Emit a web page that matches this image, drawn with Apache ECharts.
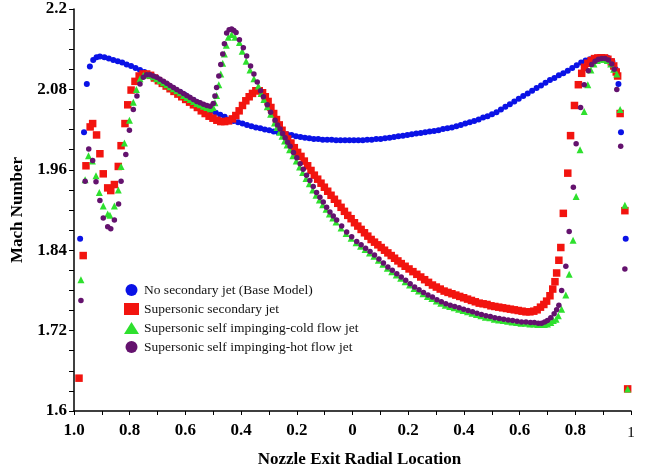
<!DOCTYPE html>
<html>
<head>
<meta charset="utf-8">
<script src="https://cdn.jsdelivr.net/npm/echarts@6/dist/echarts.min.js"></script>
<style>
html,body{margin:0;padding:0;background:#fff;}
#chart{width:645px;height:473px;}
</style>
</head>
<body>
<div id="chart"></div>
<script>
const seriesNames = [
  'No secondary jet (Base Model)',
  'Supersonic secondary jet',
  'Supersonic self impinging-cold flow jet',
  'Supersonic self impinging-hot flow jet'
];
const xTickLabels = ['1.0','0.8','0.6','0.4','0.2','0','0.2','0.4','0.6','0.8','1'];
const yTickLabels = ['1.6','1.72','1.84','1.96','2.08','2.2'];

const baseModel = [
[-0.978,1.857],[-0.964,2.016],[-0.954,2.088],[-0.943,2.114],[-0.931,2.124],[-0.919,2.128],[-0.907,2.129],[-0.891,2.128],
[-0.875,2.126],[-0.859,2.124],[-0.843,2.122],[-0.827,2.120],[-0.811,2.117],[-0.795,2.115],[-0.779,2.112],[-0.763,2.109],
[-0.747,2.106],[-0.731,2.102],[-0.715,2.099],[-0.699,2.095],[-0.683,2.091],[-0.667,2.087],[-0.651,2.083],[-0.635,2.079],
[-0.619,2.076],[-0.603,2.072],[-0.587,2.068],[-0.571,2.064],[-0.555,2.060],[-0.539,2.056],[-0.523,2.052],[-0.507,2.048],
[-0.491,2.045],[-0.475,2.042],[-0.459,2.039],[-0.443,2.035],[-0.427,2.033],[-0.411,2.031],[-0.395,2.029],[-0.379,2.027],
[-0.363,2.025],[-0.347,2.023],[-0.331,2.022],[-0.315,2.020],[-0.299,2.019],[-0.283,2.017],[-0.267,2.016],[-0.251,2.014],
[-0.235,2.013],[-0.219,2.012],[-0.203,2.010],[-0.187,2.009],[-0.171,2.008],[-0.155,2.007],[-0.139,2.006],[-0.123,2.006],
[-0.107,2.005],[-0.091,2.005],[-0.075,2.005],[-0.059,2.004],[-0.043,2.004],[-0.027,2.004],[-0.011,2.004],[0.005,2.004],
[0.021,2.004],[0.037,2.004],[0.053,2.005],[0.069,2.005],[0.085,2.006],[0.101,2.006],[0.117,2.007],[0.133,2.008],
[0.149,2.009],[0.165,2.010],[0.181,2.011],[0.197,2.012],[0.213,2.013],[0.229,2.014],[0.245,2.015],[0.261,2.016],
[0.277,2.017],[0.293,2.018],[0.309,2.019],[0.325,2.021],[0.341,2.022],[0.357,2.023],[0.373,2.025],[0.389,2.027],
[0.405,2.029],[0.421,2.031],[0.437,2.033],[0.453,2.035],[0.469,2.038],[0.485,2.040],[0.501,2.043],[0.517,2.046],
[0.533,2.050],[0.549,2.054],[0.565,2.058],[0.581,2.062],[0.597,2.066],[0.613,2.070],[0.629,2.074],[0.645,2.078],
[0.661,2.082],[0.677,2.086],[0.693,2.090],[0.709,2.094],[0.725,2.097],[0.741,2.101],[0.757,2.104],[0.773,2.108],
[0.789,2.112],[0.805,2.116],[0.821,2.120],[0.837,2.123],[0.853,2.125],[0.869,2.127],[0.885,2.128],[0.901,2.128],
[0.917,2.127],[0.933,2.122],[0.945,2.110],[0.955,2.088],[0.964,2.016],[0.981,1.857]
];

const secondaryJet = [
[-0.982,1.649],[-0.967,1.832],[-0.957,1.966],[-0.942,2.024],[-0.933,2.029],[-0.919,2.012],[-0.907,1.984],[-0.895,1.954],
[-0.879,1.933],[-0.868,1.929],[-0.855,1.938],[-0.841,1.965],[-0.831,1.996],[-0.817,2.029],[-0.807,2.057],[-0.795,2.079],
[-0.781,2.092],[-0.766,2.100],[-0.752,2.103],[-0.739,2.103],[-0.725,2.101],[-0.711,2.097],[-0.697,2.093],[-0.683,2.089],
[-0.669,2.085],[-0.655,2.081],[-0.641,2.077],[-0.627,2.073],[-0.613,2.069],[-0.599,2.065],[-0.585,2.061],[-0.571,2.057],
[-0.557,2.053],[-0.543,2.048],[-0.529,2.044],[-0.515,2.040],[-0.501,2.037],[-0.487,2.034],[-0.473,2.032],[-0.459,2.032],
[-0.445,2.033],[-0.431,2.036],[-0.419,2.041],[-0.407,2.048],[-0.395,2.056],[-0.383,2.063],[-0.371,2.069],[-0.359,2.074],
[-0.347,2.078],[-0.335,2.078],[-0.323,2.075],[-0.313,2.069],[-0.303,2.062],[-0.293,2.053],[-0.283,2.044],[-0.273,2.035],
[-0.263,2.027],[-0.253,2.019],[-0.243,2.012],[-0.233,2.006],[-0.221,2.000],[-0.209,1.993],[-0.197,1.986],[-0.185,1.980],
[-0.173,1.973],[-0.161,1.966],[-0.149,1.959],[-0.137,1.952],[-0.125,1.946],[-0.113,1.940],[-0.101,1.934],[-0.089,1.928],
[-0.077,1.922],[-0.065,1.916],[-0.053,1.910],[-0.041,1.904],[-0.029,1.898],[-0.017,1.892],[-0.005,1.887],[0.007,1.881],
[0.019,1.876],[0.031,1.871],[0.043,1.866],[0.055,1.861],[0.067,1.856],[0.079,1.852],[0.091,1.848],[0.103,1.844],
[0.115,1.840],[0.127,1.836],[0.139,1.832],[0.151,1.828],[0.163,1.824],[0.175,1.820],[0.189,1.816],[0.203,1.812],
[0.217,1.808],[0.231,1.804],[0.245,1.800],[0.259,1.796],[0.273,1.792],[0.287,1.788],[0.301,1.785],[0.315,1.782],
[0.329,1.779],[0.343,1.777],[0.357,1.775],[0.371,1.773],[0.385,1.771],[0.399,1.769],[0.413,1.767],[0.427,1.765],
[0.441,1.763],[0.455,1.761],[0.469,1.760],[0.483,1.759],[0.497,1.757],[0.511,1.756],[0.525,1.755],[0.539,1.754],
[0.553,1.753],[0.567,1.752],[0.581,1.751],[0.595,1.750],[0.609,1.749],[0.623,1.748],[0.637,1.748],[0.651,1.749],
[0.663,1.751],[0.675,1.755],[0.687,1.759],[0.697,1.764],[0.709,1.772],[0.719,1.782],[0.727,1.793],[0.733,1.806],
[0.741,1.825],[0.748,1.844],[0.757,1.895],[0.773,1.955],[0.783,2.011],[0.797,2.056],[0.811,2.087],[0.823,2.104],
[0.833,2.113],[0.845,2.119],[0.857,2.123],[0.869,2.126],[0.881,2.127],[0.893,2.127],[0.905,2.127],[0.917,2.125],
[0.929,2.121],[0.938,2.115],[0.947,2.106],[0.952,2.100],[0.961,2.044],[0.978,1.899],[0.988,1.633]
];

const coldFlowJet = [
[-0.975,1.796],[-0.960,1.945],[-0.948,1.981],[-0.934,1.973],[-0.921,1.951],[-0.909,1.926],[-0.895,1.906],[-0.879,1.894],
[-0.871,1.892],[-0.855,1.906],[-0.841,1.930],[-0.831,1.965],[-0.819,2.000],[-0.801,2.034],[-0.787,2.061],[-0.776,2.080],
[-0.763,2.096],[-0.751,2.101],[-0.739,2.102],[-0.727,2.101],[-0.715,2.099],[-0.703,2.096],[-0.691,2.093],[-0.679,2.090],
[-0.667,2.087],[-0.655,2.084],[-0.643,2.081],[-0.631,2.078],[-0.619,2.075],[-0.607,2.071],[-0.595,2.068],[-0.583,2.065],
[-0.571,2.062],[-0.559,2.059],[-0.547,2.057],[-0.535,2.055],[-0.523,2.053],[-0.511,2.051],[-0.500,2.053],[-0.494,2.060],
[-0.488,2.071],[-0.480,2.087],[-0.473,2.103],[-0.466,2.119],[-0.460,2.133],[-0.453,2.146],[-0.446,2.158],[-0.434,2.162],
[-0.422,2.158],[-0.406,2.150],[-0.396,2.137],[-0.382,2.122],[-0.368,2.109],[-0.354,2.096],[-0.338,2.085],[-0.328,2.074],
[-0.318,2.065],[-0.306,2.054],[-0.294,2.043],[-0.280,2.030],[-0.271,2.023],[-0.262,2.016],[-0.253,2.010],[-0.244,2.003],
[-0.235,1.997],[-0.226,1.990],[-0.214,1.981],[-0.202,1.973],[-0.190,1.964],[-0.179,1.956],[-0.167,1.947],[-0.155,1.939],
[-0.143,1.930],[-0.131,1.922],[-0.119,1.915],[-0.107,1.908],[-0.095,1.901],[-0.083,1.894],[-0.071,1.888],[-0.059,1.882],
[-0.041,1.873],[-0.023,1.865],[-0.005,1.858],[0.013,1.851],[0.029,1.846],[0.045,1.841],[0.061,1.836],[0.077,1.831],
[0.093,1.825],[0.109,1.819],[0.125,1.813],[0.141,1.808],[0.157,1.803],[0.173,1.798],[0.189,1.793],[0.205,1.788],
[0.221,1.783],[0.237,1.779],[0.253,1.775],[0.269,1.771],[0.285,1.768],[0.301,1.764],[0.317,1.761],[0.333,1.758],
[0.349,1.756],[0.365,1.754],[0.381,1.752],[0.397,1.750],[0.413,1.748],[0.429,1.746],[0.445,1.744],[0.461,1.742],
[0.477,1.740],[0.493,1.739],[0.509,1.737],[0.525,1.736],[0.541,1.735],[0.557,1.734],[0.573,1.733],[0.589,1.732],
[0.605,1.731],[0.621,1.731],[0.637,1.730],[0.651,1.730],[0.665,1.729],[0.677,1.729],[0.689,1.729],[0.700,1.730],
[0.712,1.732],[0.721,1.735],[0.731,1.737],[0.739,1.742],[0.751,1.752],[0.766,1.773],[0.778,1.804],[0.792,1.855],
[0.803,1.920],[0.817,1.990],[0.832,2.047],[0.845,2.087],[0.856,2.109],[0.867,2.118],[0.879,2.123],[0.891,2.125],
[0.903,2.125],[0.915,2.123],[0.927,2.118],[0.938,2.110],[0.949,2.103],[0.961,2.050],[0.978,1.907],[0.988,1.633]
];

const hotFlowJet = [
[-0.975,1.765],[-0.960,1.943],[-0.947,1.991],[-0.933,1.974],[-0.921,1.942],[-0.907,1.914],[-0.895,1.888],[-0.879,1.875],
[-0.868,1.872],[-0.855,1.885],[-0.840,1.909],[-0.831,1.943],[-0.814,1.983],[-0.801,2.019],[-0.787,2.050],[-0.774,2.070],
[-0.763,2.088],[-0.751,2.098],[-0.739,2.102],[-0.727,2.102],[-0.715,2.100],[-0.703,2.098],[-0.691,2.095],[-0.679,2.092],
[-0.667,2.089],[-0.655,2.086],[-0.643,2.083],[-0.631,2.080],[-0.619,2.077],[-0.607,2.074],[-0.595,2.071],[-0.583,2.068],
[-0.571,2.065],[-0.559,2.062],[-0.547,2.060],[-0.535,2.058],[-0.523,2.056],[-0.511,2.055],[-0.500,2.059],[-0.494,2.070],
[-0.488,2.083],[-0.480,2.100],[-0.473,2.117],[-0.466,2.133],[-0.460,2.148],[-0.452,2.164],[-0.443,2.169],[-0.434,2.170],
[-0.426,2.168],[-0.418,2.165],[-0.406,2.154],[-0.392,2.142],[-0.380,2.130],[-0.366,2.115],[-0.354,2.103],[-0.342,2.091],
[-0.330,2.078],[-0.320,2.069],[-0.306,2.057],[-0.294,2.046],[-0.278,2.034],[-0.269,2.027],[-0.260,2.021],[-0.251,2.014],
[-0.242,2.008],[-0.233,2.001],[-0.224,1.995],[-0.212,1.986],[-0.200,1.978],[-0.188,1.969],[-0.177,1.961],[-0.165,1.952],
[-0.153,1.944],[-0.141,1.935],[-0.129,1.926],[-0.117,1.919],[-0.105,1.912],[-0.093,1.904],[-0.081,1.897],[-0.069,1.891],
[-0.057,1.885],[-0.039,1.876],[-0.021,1.867],[-0.003,1.860],[0.015,1.853],[0.031,1.848],[0.047,1.843],[0.063,1.838],
[0.079,1.833],[0.095,1.827],[0.111,1.821],[0.127,1.815],[0.143,1.810],[0.159,1.805],[0.175,1.800],[0.191,1.795],
[0.207,1.790],[0.223,1.785],[0.239,1.781],[0.255,1.777],[0.271,1.773],[0.287,1.770],[0.303,1.766],[0.319,1.763],
[0.335,1.760],[0.351,1.758],[0.367,1.756],[0.383,1.754],[0.399,1.752],[0.415,1.750],[0.431,1.748],[0.447,1.746],
[0.463,1.744],[0.479,1.742],[0.495,1.741],[0.511,1.739],[0.527,1.738],[0.543,1.737],[0.559,1.736],[0.575,1.735],
[0.591,1.734],[0.607,1.733],[0.623,1.733],[0.639,1.732],[0.653,1.732],[0.667,1.731],[0.679,1.731],[0.690,1.733],
[0.700,1.735],[0.712,1.739],[0.724,1.745],[0.733,1.751],[0.741,1.758],[0.751,1.780],[0.766,1.816],[0.778,1.868],
[0.793,1.934],[0.803,1.999],[0.819,2.053],[0.832,2.087],[0.847,2.108],[0.859,2.117],[0.871,2.122],[0.883,2.125],
[0.895,2.126],[0.907,2.126],[0.919,2.124],[0.931,2.118],[0.940,2.110],[0.949,2.080],[0.963,1.995],[0.978,1.812]
];

const serif = '"Liberation Serif", "DejaVu Serif", serif';
const chart = echarts.init(document.getElementById('chart'), null, {renderer: 'canvas'});

chart.setOption({
  animation: false,
  backgroundColor: '#ffffff',
  grid: {left: 74, right: 14, top: 9, bottom: 56, containLabel: false},
  legend: {
    orient: 'vertical',
    left: 124,
    top: 283,
    padding: 0,
    itemWidth: 15,
    itemHeight: 12,
    itemGap: 5,
    textStyle: {fontFamily: serif, fontSize: 13.5, color: '#111'},
    data: [
      {name: seriesNames[0], icon: 'circle'},
      {name: seriesNames[1], icon: 'rect'},
      {name: seriesNames[2], icon: 'triangle'},
      {name: seriesNames[3], icon: 'circle'}
    ]
  },
  xAxis: {
    type: 'value',
    min: -1, max: 1, interval: 0.2,
    name: 'Nozzle Exit Radial Location',
    nameLocation: 'middle',
    nameGap: 40,
    nameTextStyle: {fontFamily: serif, fontSize: 17, fontWeight: 'bold', color: '#000', padding: [0, 0, 0, 14]},
    axisLine: {onZero: false, lineStyle: {color: '#000', width: 1.5}},
    axisTick: {inside: false, length: 4, lineStyle: {color: '#000'}},
    minorTick: {show: true, splitNumber: 2, length: 4, lineStyle: {color: '#000'}},
    splitLine: {show: false},
    axisLabel: {
      margin: 11,
      fontFamily: serif, fontSize: 17, fontWeight: 'bold', color: '#000',
      formatter: function (v) {
        const i = Math.round((v + 1) / 0.2);
        return i === xTickLabels.length - 1 ? '{thin|' + xTickLabels[i] + '}' : xTickLabels[i];
      },
      rich: {thin: {fontFamily: serif, fontSize: 15, fontWeight: 'normal', color: '#000', padding: [4, 0, 0, 0]}}
    }
  },
  yAxis: {
    type: 'value',
    min: 1.6, max: 2.2, interval: 0.12,
    name: 'Mach Number',
    nameLocation: 'middle',
    nameGap: 43,
    nameTextStyle: {fontFamily: serif, fontSize: 17, fontWeight: 'bold', color: '#000'},
    axisLine: {show: true, onZero: false, lineStyle: {color: '#000', width: 1.5}},
    axisTick: {show: true, length: 5, lineStyle: {color: '#000'}},
    minorTick: {show: true, splitNumber: 4, length: 5, lineStyle: {color: '#000'}},
    splitLine: {show: false},
    axisLabel: {
      margin: 7,
      fontFamily: serif, fontSize: 17, fontWeight: 'bold', color: '#000',
      formatter: function (v) { return yTickLabels[Math.round((v - 1.6) / 0.12)]; }
    }
  },
  series: [
    {name: seriesNames[0], type: 'scatter', symbol: 'circle', symbolSize: 6,
     itemStyle: {color: '#0a12e6', opacity: 1}, data: baseModel, z: 2},
    {name: seriesNames[1], type: 'scatter', symbol: 'rect', symbolSize: 7.5,
     itemStyle: {color: '#f2140f', opacity: 1}, data: secondaryJet, z: 3},
    {name: seriesNames[2], type: 'scatter', symbol: 'triangle', symbolSize: 7,
     itemStyle: {color: '#2ee02e', opacity: 1}, data: coldFlowJet, z: 4},
    {name: seriesNames[3], type: 'scatter', symbol: 'circle', symbolSize: 5.5,
     itemStyle: {color: '#64126e', opacity: 1}, data: hotFlowJet, z: 5}
  ]
});
</script>
</body>
</html>
